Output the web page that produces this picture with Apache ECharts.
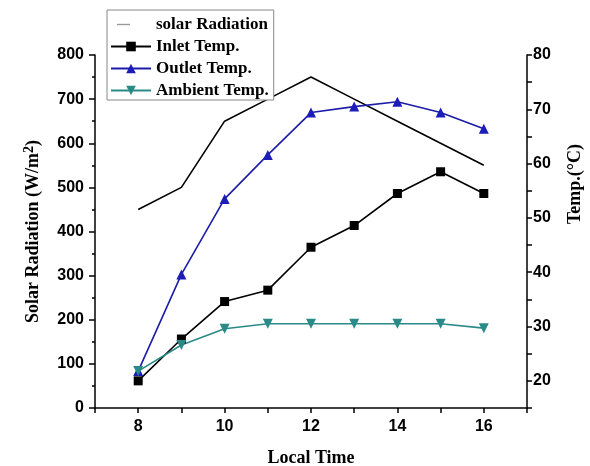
<!DOCTYPE html>
<html>
<head>
<meta charset="utf-8">
<script src="https://cdn.jsdelivr.net/npm/echarts@6/dist/echarts.min.js"></script>
<style>
  html, body { margin: 0; padding: 0; background: #fff; }
  #main { width: 590px; height: 466px; }
</style>
</head>
<body>
<div id="main"></div>
<script>
// local time (h)
const hours = [8, 9, 10, 11, 12, 13, 14, 15, 16];
// left axis, W/m2
const solarRadiation = [450, 500, 650, 700, 750, 700, 650, 600, 550];
// right axis, deg C
const inletTemp = [20, 27.7, 34.6, 36.7, 44.6, 48.6, 54.5, 58.5, 54.5];
const outletTemp = [21.8, 39.6, 53.5, 61.6, 69.4, 70.5, 71.4, 69.4, 66.4];
const ambientTemp = [21.8, 26.6, 29.6, 30.5, 30.5, 30.5, 30.5, 30.5, 29.7];

const serif = 'Liberation Serif, Times New Roman, serif';
const sans = 'Liberation Sans, Arial, sans-serif';

function pairs(ys) {
  return hours.map((h, i) => [h, ys[i]]);
}

const axisText = { color: '#000', fontFamily: sans, fontWeight: 'bold', fontSize: 16 };

// short grey dash only, the corner points keep the icon box full size
const dashIcon = 'path://M0,0L0,0M40,12L40,12M6,5.3L19,5.3L19,6.7L6,6.7Z';

var chart = echarts.init(document.getElementById('main'), null, { renderer: 'canvas' });

const option = {
  animation: false,
  backgroundColor: '#fff',
  grid: { left: 95, right: 63, top: 55, bottom: 58, containLabel: false, outerBoundsMode: 'none' },
  legend: {
    orient: 'vertical',
    left: 107,
    top: 10,
    padding: [6, 5, 1, 3],
    itemGap: 5,
    itemWidth: 40,
    itemHeight: 12,
    borderColor: '#888',
    borderWidth: 1,
    backgroundColor: '#fff',
    textStyle: { color: '#000', fontFamily: serif, fontWeight: 'bold', fontSize: 17 },
    data: [
      { name: 'solar Radiation', icon: dashIcon, itemStyle: { color: '#999' } },
      'Inlet Temp.',
      'Outlet Temp.',
      'Ambient Temp.'
    ]
  },
  xAxis: {
    type: 'value',
    min: 7,
    max: 17,
    interval: 1,
    name: 'Local Time',
    nameLocation: 'middle',
    nameGap: 41,
    nameTextStyle: { color: '#000', fontFamily: serif, fontWeight: 'bold', fontSize: 18 },
    axisLine: { lineStyle: { color: '#000', width: 1.5 } },
    axisTick: { length: 5, lineStyle: { color: '#000', width: 1.5 } },
    axisLabel: Object.assign({}, axisText, {
      margin: 11,
      formatter: v => (v % 2 === 0 ? String(v) : '')
    }),
    splitLine: { show: false }
  },
  yAxis: [
    {
      type: 'value',
      min: 0,
      max: 800,
      interval: 100,
      name: '{a|Solar Radiation (W/m}{s|2}{a|)}',
      nameLocation: 'middle',
      nameGap: 50,
      nameTextStyle: {
        color: '#000',
        rich: {
          a: { fontFamily: serif, fontWeight: 'bold', fontSize: 18, color: '#000' },
          s: { fontFamily: serif, fontWeight: 'bold', fontSize: 14, color: '#000', verticalAlign: 'bottom', padding: [0, 0, 9, 0] }
        }
      },
      axisLine: { show: true, lineStyle: { color: '#000', width: 1.5 } },
      axisTick: { show: true, length: 6, lineStyle: { color: '#000', width: 1.5 } },
      minorTick: { show: true, splitNumber: 2, length: 3, lineStyle: { color: '#000', width: 1.5 } },
      axisLabel: Object.assign({}, axisText, { margin: 11 }),
      splitLine: { show: false }
    },
    {
      type: 'value',
      position: 'right',
      min: 15,
      max: 80,
      interval: 5,
      axisLine: { show: true, lineStyle: { color: '#000', width: 1.5 } },
      axisTick: { show: true, length: 5, lineStyle: { color: '#000', width: 1.5 } },
      axisLabel: Object.assign({}, axisText, {
        margin: 6,
        formatter: v => (v % 10 === 0 ? String(v) : '')
      }),
      splitLine: { show: false }
    }
  ],
  graphic: [
    {
      type: 'text',
      x: 575,
      y: 184,
      rotation: Math.PI / 2,
      style: {
        text: 'Temp.(°C)',
        fill: '#000',
        font: 'bold 18px ' + serif,
        align: 'center',
        verticalAlign: 'middle'
      }
    }
  ],
  series: [
    {
      name: 'solar Radiation',
      type: 'line',
      yAxisIndex: 0,
      data: pairs(solarRadiation),
      symbol: 'none',
      lineStyle: { color: '#000', width: 1.6 },
      itemStyle: { color: '#000' }
    },
    {
      name: 'Inlet Temp.',
      type: 'line',
      yAxisIndex: 1,
      data: pairs(inletTemp),
      symbol: 'rect',
      symbolSize: 9,
      lineStyle: { color: '#000', width: 1.6 },
      itemStyle: { color: '#000' }
    },
    {
      name: 'Outlet Temp.',
      type: 'line',
      yAxisIndex: 1,
      data: pairs(outletTemp),
      symbol: 'triangle',
      symbolSize: 10,
      lineStyle: { color: '#1c1ca8', width: 1.6 },
      itemStyle: { color: '#1c1cb8' }
    },
    {
      name: 'Ambient Temp.',
      type: 'line',
      yAxisIndex: 1,
      data: pairs(ambientTemp),
      symbol: 'triangle',
      symbolRotate: 180,
      symbolSize: 10,
      lineStyle: { color: '#2a8a88', width: 1.6 },
      itemStyle: { color: '#2a8a88' }
    }
  ]
};

chart.setOption(option);
</script>
</body>
</html>
